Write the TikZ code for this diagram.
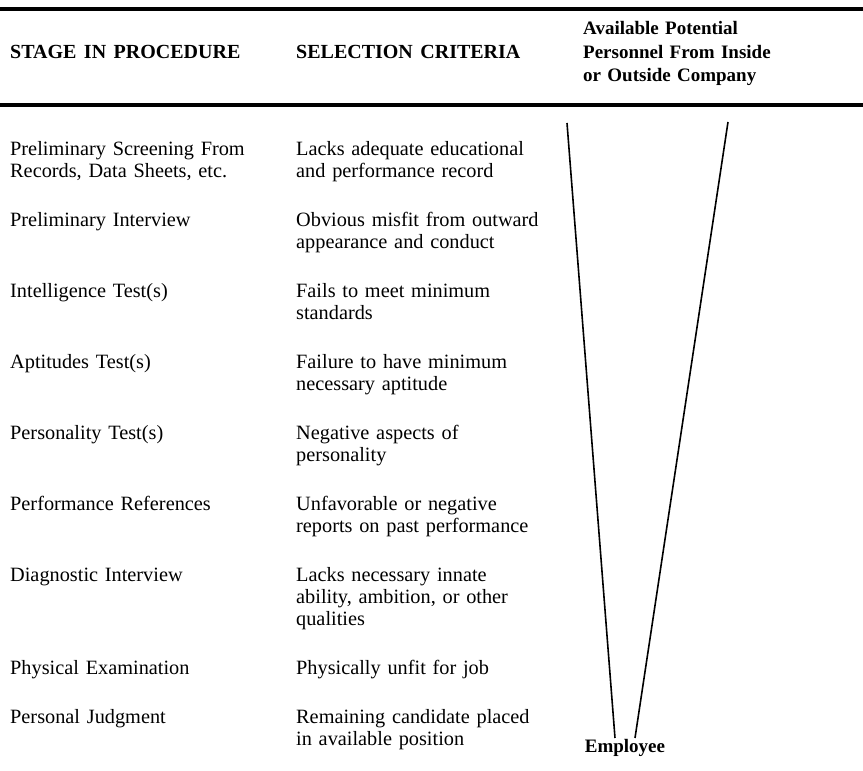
\documentclass[tikz,border=0pt]{standalone}
\usepackage{fontspec}
\setmainfont{Liberation Serif}[WordSpace=1.5]
\usetikzlibrary{matrix,positioning,calc}

\tikzset{
  hdr/.style={font=\bfseries\fontsize{19}{23.5}\selectfont, inner sep=0pt, anchor=base west},
  colhdr/.style={hdr, font=\bfseries\fontsize{20}{23.5}\selectfont},
  rule/.style={line width=3.5pt},
  funnel/.style={line width=1.6pt}
}

\begin{document}
\begin{tikzpicture}[x=1pt,y=1pt]
  \useasboundingbox (0,0) rectangle (863,771);
  % heading rules
  \draw[rule] (0,762) -- (863,762);
  \draw[rule] (0,666) -- (863,666);
  \node[colhdr] (h1) at (10,712) {STAGE IN PROCEDURE};
  \node[colhdr] (h2) at (296,712) {SELECTION CRITERIA};
  \node[hdr, text width=240pt, align=left] (h3) at (583,736) {Available Potential\\ Personnel From Inside\\ or Outside Company};
  \matrix (m) [matrix of nodes, anchor=north west, inner sep=0pt, row sep=27pt, column sep=36pt,
    nodes={inner sep=0pt, text width=250pt, align=left, font=\fontsize{20.3}{22}\selectfont,
      execute at begin node=\strut, execute at end node=\strut}] at (10,631.4)
  {
Preliminary Screening From\newline Records, Data Sheets, etc. & Lacks adequate educational\newline and performance record \\
Preliminary Interview & Obvious misfit from outward\newline appearance and conduct \\
Intelligence Test(s) & Fails to meet minimum\newline standards \\
Aptitudes Test(s) & Failure to have minimum\newline necessary aptitude \\
Personality Test(s) & Negative aspects of\newline personality \\
Performance References & Unfavorable or negative\newline reports on past performance \\
Diagnostic Interview & Lacks necessary innate\newline ability, ambition, or other\newline qualities \\
Physical Examination & Physically unfit for job \\
Personal Judgment & Remaining candidate placed\newline in available position \\
  };
  % funnel
  \coordinate (lt) at (567,648);
  \coordinate (rt) at (728,649);
  \coordinate (lb) at (615,33);
  \coordinate (rb) at (635,33);
  \coordinate (bot) at ($(lb)!0.5!(rb)$);
  \path[funnel] (lt) edge (lb)
  (rt) edge (rb);
%  \draw[funnel] (lb) -- (rb);
  \node[hdr, anchor=north, below=1pt of bot] (emp) {Employee};
\end{tikzpicture}
\end{document}
